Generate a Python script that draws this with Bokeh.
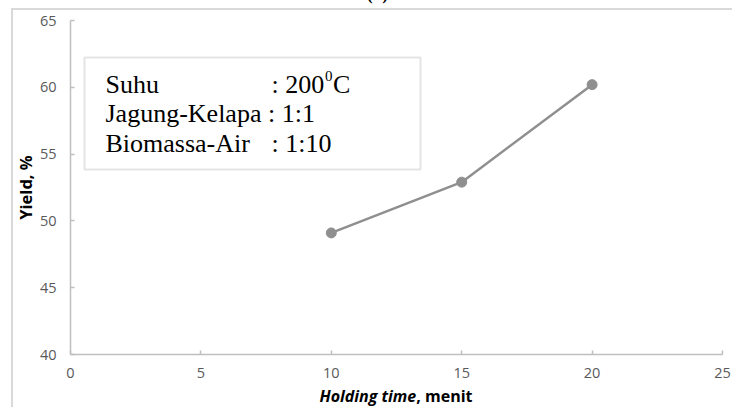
from bokeh.plotting import figure
from bokeh.layouts import column
from bokeh.models import Range1d, Label, BoxAnnotation, FixedTicker, ColumnDataSource, Div
from bokeh.embed import file_html
from bokeh.resources import INLINE

# ---- data ----
holding_time = [10, 15, 20]
yield_pct = [49.1, 52.9, 60.2]
x_ticks = [0, 5, 10, 15, 20, 25]
y_ticks = [40, 45, 50, 55, 60, 65]
x_title_italic = "Holding time"
x_title_rest = ", menit"
y_title = "Yield, %"
title = "(b)"

W, H, HD = 732, 386, 21
FL, FR, FT, FB = 70, 10, 20, 32   # frame margins
DY = 9                           # label baseline correction

BORDER = "#d9d9d9"
p = figure(width=W, height=H, output_backend="svg", toolbar_location=None,
           x_range=Range1d(0, 25), y_range=Range1d(40, 65),
           min_border_left=FL, min_border_right=FR,
           min_border_top=FT, min_border_bottom=FB,
           border_fill_color=None, background_fill_color=None,
           outline_line_color=None)
p.styles = {"background": f"linear-gradient({BORDER},{BORDER}) 11px 8px / 100% 2px no-repeat, "
                          f"linear-gradient({BORDER},{BORDER}) 11px 8px / 2px 100% no-repeat, #ffffff"}
p.xgrid.visible = False
p.ygrid.visible = False

tick_font = "Open Sans"
for ax in (p.xaxis[0], p.yaxis[0]):
    ax.axis_line_color = "#bfbfbf"
    ax.axis_line_width = 1.5
    ax.major_tick_line_color = "#bfbfbf"
    ax.major_tick_line_width = 1.5
    ax.major_tick_in = 4
    ax.major_tick_out = 0
    ax.minor_tick_line_color = None
    ax.major_label_text_font = tick_font
    ax.major_label_text_font_size = "14.5px"
    ax.major_label_text_color = "#595959"

p.xaxis[0].ticker = FixedTicker(ticks=x_ticks)
p.yaxis[0].ticker = FixedTicker(ticks=y_ticks)
p.xaxis[0].major_label_standoff = 13
p.yaxis[0].major_label_standoff = 14
p.yaxis[0].axis_label = y_title
p.yaxis[0].axis_label_text_font = tick_font
p.yaxis[0].axis_label_text_font_style = "bold"
p.yaxis[0].axis_label_text_font_size = "16.5px"
p.yaxis[0].axis_label_text_color = "#000000"
p.yaxis[0].axis_label_standoff = 0

src = ColumnDataSource(dict(x=holding_time, y=yield_pct))
p.line("x", "y", source=src, line_color="#8f8f8f", line_width=2.5)
p.scatter("x", "y", source=src, size=10, fill_color="#8f8f8f", line_color="#8f8f8f")

fb = H - FB  # frame bottom (canvas px)
fl = FL      # frame left (canvas px)


def lab(text, X, Y, place="center", ref_y=None, **kw):
    """X, Y = desired x and baseline y in canvas px (top-left origin)."""
    base = fb if ref_y is None else ref_y
    opts = dict(x=X - fl, y=base - Y + DY, x_units="screen", y_units="screen", text=text,
                text_baseline="alphabetic")
    opts.update(kw)
    p.add_layout(Label(**opts), place)


# title (mostly cut off at the top, as in the reference)
lab(title, 377, 3, place="above", ref_y=FT, text_font="Liberation Serif",
    text_font_style="bold", text_font_size="17px", text_align="center",
    text_color="#000000")

# info box
p.add_layout(BoxAnnotation(left=84 - fl, right=420 - fl, top=fb - 57, bottom=fb - 169,
                           left_units="screen", right_units="screen",
                           top_units="screen", bottom_units="screen",
                           fill_color="#ffffff", fill_alpha=1.0,
                           line_color="#a6a6a6", line_width=2))
serif = dict(text_font="Liberation Serif", text_font_size="26px", text_color="#000000")
lab("Suhu", 105, 93, **serif)
lab(": 200", 271, 93, **serif)
lab("0", 324.5, 84, text_font="Liberation Serif", text_font_size="15px", text_color="#000000")
lab("C", 332.5, 93, **serif)
lab("Jagung-Kelapa : 1:1", 105, 122, **serif)
lab("Biomassa-Air", 105, 151.5, **serif)
lab(": 1:10", 271, 151.5, **serif)

# x-axis title with mixed styles, as a strip under the figure
xt = Div(text=(f'<div style="width:{W - FL - FR}px;margin-left:{FL}px;text-align:center;'
               f'font-family:\'Open Sans\';font-size:16px;font-weight:bold;color:#000;'
               f'line-height:{HD - 1}px;white-space:nowrap;">'
               f'<i>{x_title_italic}</i>{x_title_rest}</div>'),
         width=W, height=HD, margin=0,
         styles={"background": f"linear-gradient({BORDER},{BORDER}) 11px 0px / 2px 100% no-repeat, #ffffff"})

layout = column(p, xt, spacing=0)
open("out.html", "w").write(file_html(layout, INLINE))
